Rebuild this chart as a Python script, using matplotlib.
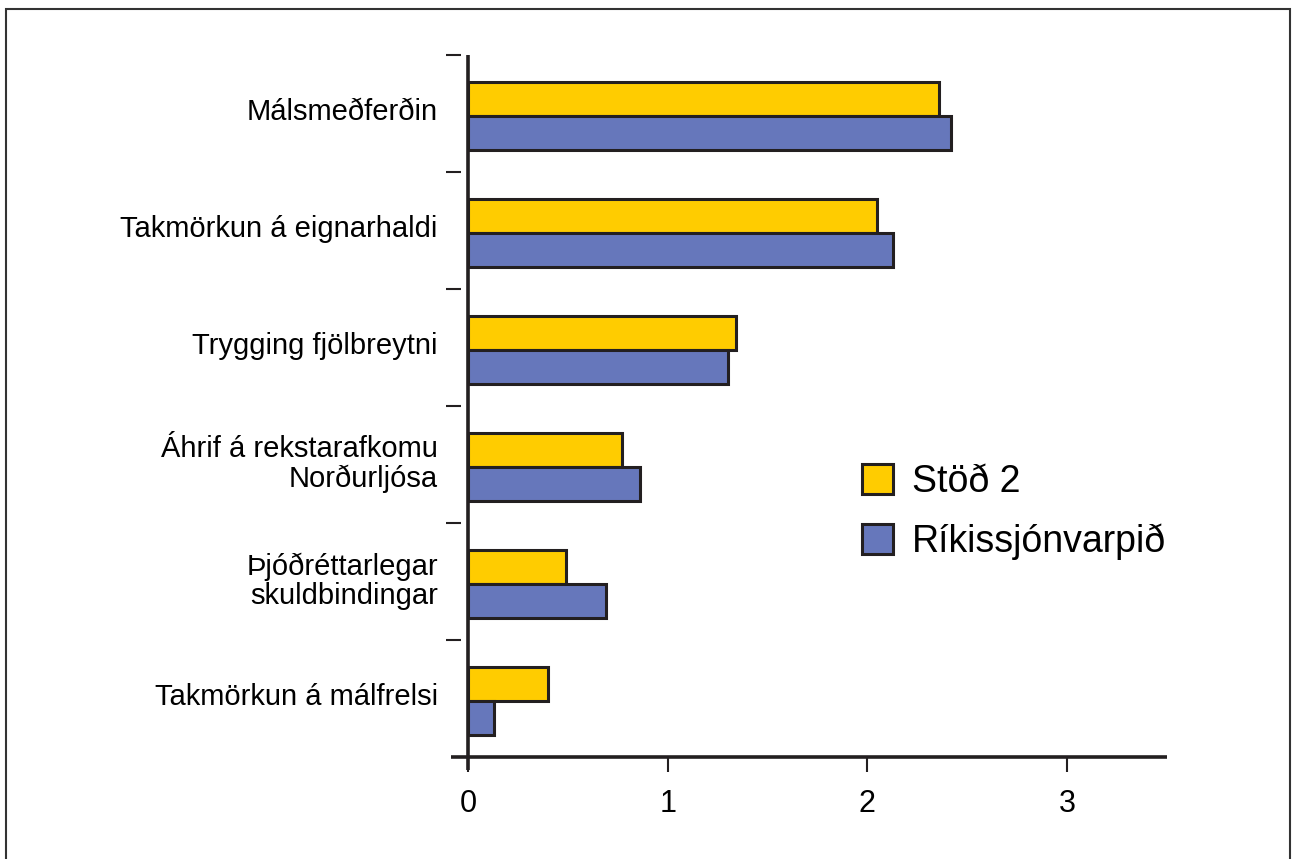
import numpy as np
import matplotlib
matplotlib.use("Agg")
import matplotlib.pyplot as plt
from matplotlib.patches import Patch, Rectangle

plt.rcParams['font.family'] = ['Liberation Sans', 'DejaVu Sans']

# DATA
categories = ['Málsmeðferðin', 'Takmörkun á eignarhaldi', 'Trygging fjölbreytni',
              'Áhrif á rekstarafkomu\nNorðurljósa', 'Þjóðréttarlegar\nskuldbindingar',
              'Takmörkun á málfrelsi']
stod2 = [2.36, 2.05, 1.34, 0.77, 0.49, 0.40]
ruv = [2.42, 2.13, 1.30, 0.86, 0.69, 0.13]
series_names = ['Stöð 2', 'Ríkissjónvarpið']
xticks = [0, 1, 2, 3]

YELLOW = '#FFCC00'
BLUE = '#6677BB'
EDGE = '#231F20'

fig = plt.figure(figsize=(12.96, 8.59), dpi=100)
ax = fig.add_axes([468/1296, 1-757/859, (1167-468)/1296, (757-55)/859])

n = len(categories)
centers = n - 0.5 - np.arange(n)   # top category first
h = 0.29
off = -0.02
ax.barh(centers + off + h/2, stod2, height=h, color=YELLOW, edgecolor=EDGE, linewidth=2.2, zorder=2)
ax.barh(centers + off - h/2, ruv, height=h, color=BLUE, edgecolor=EDGE, linewidth=2.2, zorder=2)

ax.set_xlim(0, 3.5)
ax.set_ylim(0, n)

for s in ax.spines.values():
    s.set_visible(False)
ax.spines['left'].set_position(('outward', 5))

# axis lines drawn by hand so they overshoot each other
ax.plot([0, 0], [-0.11, n], color=EDGE, lw=2.6, clip_on=False, zorder=3, solid_capstyle='butt')
ax.plot([-0.085, 3.5], [0, 0], color=EDGE, lw=2.6, clip_on=False, zorder=3, solid_capstyle='butt')

ax.set_xticks(xticks)
ax.set_xticklabels([str(v) for v in xticks], fontsize=22)
ax.tick_params(axis='x', direction='out', length=11, width=1.5, color=EDGE, pad=12)

ax.set_yticks(np.arange(1, n + 1))
ax.set_yticklabels([])
ax.tick_params(axis='y', which='major', direction='out', length=11, width=1.5, color=EDGE)
ax.set_yticks(centers + 0.035, minor=True)
ax.set_yticklabels(categories, minor=True, fontsize=21, linespacing=1.08)
ax.tick_params(axis='y', which='minor', length=0, pad=16.7)

handles = [Patch(facecolor=YELLOW, edgecolor=EDGE, linewidth=2.2),
           Patch(facecolor=BLUE, edgecolor=EDGE, linewidth=2.2)]
fig.legend(handles, series_names, loc='upper left', bbox_to_anchor=(862/1296, 1-464/859),
           frameon=False, fontsize=27, handlelength=0.83, handleheight=0.83,
           handletextpad=0.5, labelspacing=0.62, borderpad=0, borderaxespad=0)

fig.patches.append(Rectangle((6/1296, -0.01), (1290-6)/1296, 1.01-9/859,
                             transform=fig.transFigure, fill=False,
                             edgecolor='#333333', linewidth=1.5))

fig.savefig('out.png', dpi=100)
